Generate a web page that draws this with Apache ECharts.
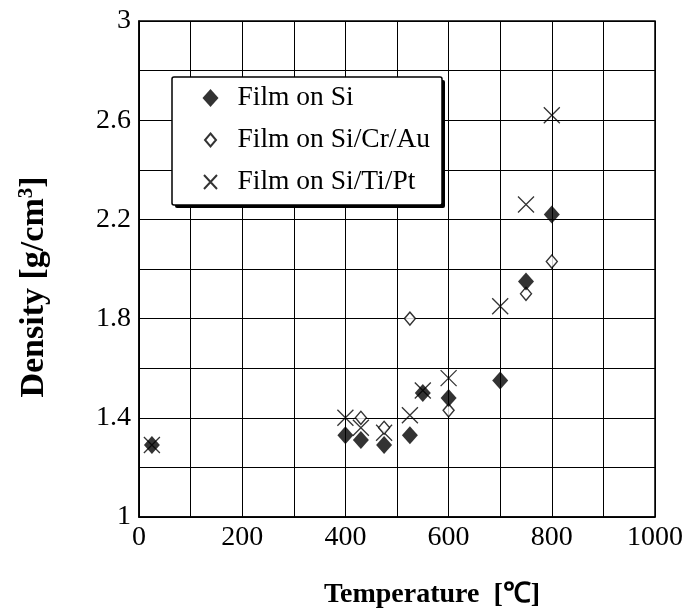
<!DOCTYPE html>
<html>
<head>
<meta charset="utf-8">
<script src="https://cdn.jsdelivr.net/npm/echarts@6/dist/echarts.min.js"></script>
<style>
html,body{margin:0;padding:0;background:#fff;}
#chart{width:688px;height:614px;}
</style>
</head>
<body>
<div id="chart"></div>
<script>
// ---- data ----
const seriesNames = ['Film on Si', 'Film on Si/Cr/Au', 'Film on Si/Ti/Pt'];
const tempSi = [25, 400, 430, 475, 525, 550, 600, 700, 750, 800];
const densSi = [1.29, 1.33, 1.31, 1.29, 1.33, 1.50, 1.48, 1.55, 1.95, 2.22];
const tempCrAu = [430, 475, 525, 600, 750, 800];
const densCrAu = [1.40, 1.36, 1.80, 1.43, 1.90, 2.03];
const tempTiPt = [25, 400, 430, 475, 525, 550, 600, 700, 750, 800];
const densTiPt = [1.29, 1.40, 1.36, 1.34, 1.41, 1.51, 1.56, 1.85, 2.26, 2.62];
const xTickLabels = ['0', '200', '400', '600', '800', '1000'];
const yTickLabels = ['1', '1.4', '1.8', '2.2', '2.6', '3'];

const zip = (xs, ys) => xs.map((x, i) => [x, ys[i]]);
const FONT = '"Liberation Serif", "Times New Roman", serif';
const crossPath = 'path://M0,0L16,16M16,0L0,16';
// legend icons (padded boxes so icons keep their relative sizes)
const legendOpenDiamond = 'path://M0,0M16,18M8,2.5L13.5,9L8,15.5L2.5,9Z';
const legendCross = 'path://M0,0M16,18M1.5,2L14.5,16M14.5,2L1.5,16';

// legend frame geometry
const LG = {x: 172, y: 77, w: 270, h: 128};

const chart = echarts.init(document.getElementById('chart'), null, {renderer: 'canvas'});
chart.setOption({
  animation: false,
  backgroundColor: '#fff',
  textStyle: {fontFamily: FONT, color: '#000'},
  grid: {left: 139, right: 33, top: 21, bottom: 96, show: true, borderColor: '#000', borderWidth: 1.5, backgroundColor: 'transparent'},
  graphic: [
    {type: 'rect', z: 3, shape: {x: LG.x + 3, y: LG.y + 3, width: LG.w, height: LG.h, r: 2}, style: {fill: '#000'}},
    {type: 'rect', z: 3, shape: {x: LG.x, y: LG.y, width: LG.w, height: LG.h, r: 2}, style: {fill: '#fff', stroke: '#000', lineWidth: 1.5}}
  ],
  legend: {
    orient: 'vertical',
    left: LG.x, top: LG.y, z: 6,
    padding: [6, 10, 6, 28],
    itemWidth: 16, itemHeight: 18, itemGap: 12,
    backgroundColor: 'transparent',
    textStyle: {fontFamily: FONT, fontSize: 27.5, color: '#000', lineHeight: 30, padding: [0, 0, 0, 14]},
    data: [
      {name: seriesNames[0], icon: 'diamond'},
      {name: seriesNames[1], icon: legendOpenDiamond},
      {name: seriesNames[2], icon: legendCross}
    ],
    selectedMode: false
  },
  xAxis: {
    type: 'value', min: 0, max: 1000, interval: 100,
    axisLine: {show: true, lineStyle: {color: '#000', width: 1.5}},
    axisTick: {show: false},
    splitLine: {show: true, lineStyle: {color: '#000', width: 1}},
    axisLabel: {
      fontFamily: FONT, fontSize: 28, color: '#000', margin: 7,
      formatter: v => { const s = String(Math.round(v)); return xTickLabels.indexOf(s) >= 0 ? s : ''; }
    },
    name: 'Temperature  [℃]', nameLocation: 'middle', nameGap: 64,
    nameTextStyle: {fontFamily: FONT, fontSize: 28, fontWeight: 'bold', color: '#000', padding: [0, 0, 0, 70]}
  },
  yAxis: {
    type: 'value', min: 1, max: 3, interval: 0.2,
    axisLine: {show: true, lineStyle: {color: '#000', width: 1.5}},
    axisTick: {show: false},
    splitLine: {show: true, lineStyle: {color: '#000', width: 1}},
    axisLabel: {
      fontFamily: FONT, fontSize: 28, color: '#000', margin: 8,
      formatter: v => { const s = String(Math.round(v * 10) / 10); return yTickLabels.indexOf(s) >= 0 ? s : ''; }
    },
    name: '{a|Density [g/cm}{s|3}{a|]}', nameLocation: 'middle', nameGap: 86, nameRotate: 90,
    nameTextStyle: {
      padding: [0, 36, 0, 0],
      rich: {
        a: {fontFamily: FONT, fontSize: 34, fontWeight: 'bold', color: '#000'},
        s: {fontFamily: FONT, fontSize: 21, fontWeight: 'bold', color: '#000', verticalAlign: 'top', padding: [0, 0, 16, 0]}
      }
    }
  },
  series: [
    {
      name: seriesNames[2], type: 'scatter', data: zip(tempTiPt, densTiPt),
      symbol: crossPath, symbolSize: 16, z: 2,
      itemStyle: {color: 'none', borderColor: '#000', borderWidth: 1.3}
    },
    {
      name: seriesNames[1], type: 'scatter', data: zip(tempCrAu, densCrAu),
      symbol: 'diamond', symbolSize: [11, 13], z: 3,
      itemStyle: {color: '#fff', borderColor: '#000', borderWidth: 1.4}
    },
    {
      name: seriesNames[0], type: 'scatter', data: zip(tempSi, densSi),
      symbol: 'diamond', symbolSize: [16, 18], z: 4,
      itemStyle: {color: '#000', borderColor: '#000', borderWidth: 0}
    }
  ]
});
</script>
</body>
</html>
